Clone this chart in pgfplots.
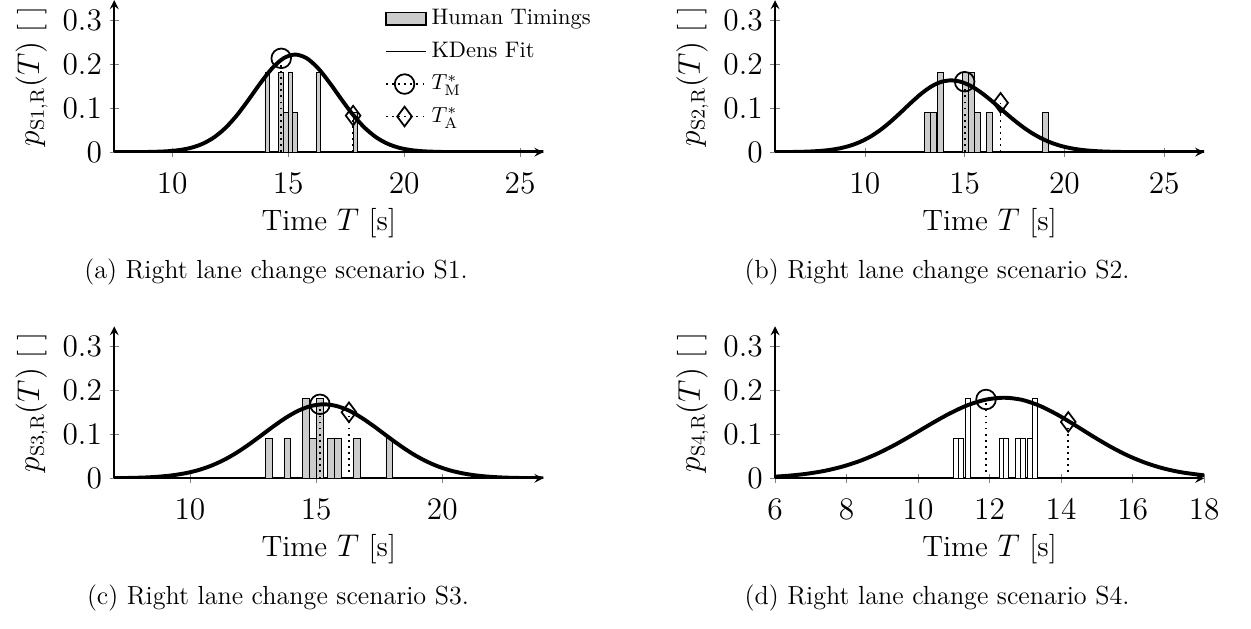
\documentclass[border=0pt]{standalone}
\usepackage{pgfplots}
\pgfplotsset{compat=1.18}
\definecolor{barfill}{gray}{0.8}
\newcommand{\axfont}{\fontsize{13.5}{16.2}\selectfont}
\newcommand{\legfont}{\fontsize{10.3}{12.4}\selectfont}
\newcommand{\capfont}{\fontsize{12}{14.4}\selectfont}
\pgfplotsset{
  kd/.style={
    scale only axis, width=196.8pt, height=69.7pt,
    anchor=south west,
    axis lines=left, tick align=center,
    axis line style={thick},
    ymin=0, ymax=0.345, ytick={0,0.1,0.2,0.3},
    tick label style={font=\axfont},
    xticklabel style={yshift=-4pt},
    label style={font=\axfont},
    xlabel={Time $T$ [s]},
  },
  kdfit/.style={black, line width=1.8pt, smooth},
  tm/.style={black, thick, dotted, mark=o, mark size=4.5pt, mark indices={2},
    mark options={solid, line width=0.8pt}},
  ta/.style={black, thick, dotted, mark=diamond, mark size=4.5pt, mark indices={2},
    mark options={solid, line width=0.8pt}},
  hist/.style={ybar, bar shift=0pt, draw=black, fill=barfill},
}
\begin{document}
\begin{tikzpicture}
\useasboundingbox (0,0) rectangle (573.8pt,288.1pt);

% (a) S1
\begin{axis}[kd, at={(52.4pt,218.3pt)},
    xmin=7.5, xmax=26, xtick={10,15,20,25},
    ylabel={$p_{\mathrm{S1,R}}(T)$ [\,\,]},
    legend style={draw=none, fill=none, font=\legfont, row sep=2.5pt,
      at={(rel axis cs:0.615,1.0)}, anchor=north west, cells={anchor=west}}]
\addplot[hist, bar width=0.2,
  legend image code/.code={\draw[thick, fill=barfill] (0cm,-0.1cm) rectangle (0.65cm,0.1cm);}]
  coordinates {(14.1,0.1818) (14.7,0.1818) (14.9,0.0909) (15.1,0.1818) (15.3,0.0909) (16.3,0.1818) (17.9,0.0909)};
\addlegendentry{Human Timings}
\addplot[kdfit, legend image code/.code={\draw[thick] (0cm,0cm) -- (0.65cm,0cm);}] coordinates {
  (7.5,0) (8.3,0.0001) (8.8,0.0003) (9.3,0.0009) (9.8,0.0021) (10.3,0.0047) (10.8,0.0097)
  (11.3,0.0188) (11.8,0.0335) (12.3,0.0553) (12.8,0.0845) (13.3,0.1196) (13.8,0.1566)
  (14.3,0.1899) (14.8,0.2132) (15.3,0.2216) (15.8,0.2132) (16.3,0.1899) (16.8,0.1566)
  (17.3,0.1196) (17.8,0.0845) (18.3,0.0553) (18.8,0.0335) (19.3,0.0188) (19.8,0.0097)
  (20.3,0.0047) (20.8,0.0021) (21.3,0.0009) (21.8,0.0003) (22.3,0.0001) (26,0)};
\addlegendentry{KDens Fit}
\addplot[tm] coordinates {(14.7,0) (14.7,0.213)};
\addlegendentry{$T_{\mathrm{M}}^{*}$}
\addplot[ta] coordinates {(17.8,0) (17.8,0.083)};
\addlegendentry{$T_{\mathrm{A}}^{*}$}
\end{axis}

% (b) S2
\begin{axis}[kd, at={(355.5pt,218.3pt)},
    xmin=5.5, xmax=27, xtick={10,15,20,25},
    ylabel={$p_{\mathrm{S2,R}}(T)$ [\,\,]}]
\addplot[hist, bar width=0.3]
  coordinates {(13.14,0.0909) (13.44,0.0909) (13.79,0.1818) (15.02,0.1818) (15.33,0.1818) (15.66,0.0909) (16.26,0.0909) (19.06,0.0909)};
\addplot[kdfit] coordinates {
  (5.5,0.0001) (5.8,0.0002) (6.3,0.0004) (6.8,0.0008) (7.3,0.0016) (7.8,0.0030) (8.3,0.0054)
  (8.8,0.0093) (9.3,0.0153) (9.8,0.0240) (10.3,0.0359) (10.8,0.0512) (11.3,0.0696)
  (11.8,0.0903) (12.3,0.1117) (12.8,0.1318) (13.3,0.1483) (13.8,0.1592) (14.3,0.1630)
  (14.8,0.1598) (15.3,0.1505) (15.8,0.1362) (16.3,0.1184) (16.8,0.0989) (17.3,0.0793)
  (17.8,0.0612) (18.3,0.0453) (18.8,0.0323) (19.3,0.0221) (19.8,0.0145) (20.3,0.0091)
  (20.8,0.0055) (21.3,0.0032) (21.8,0.0018) (22.3,0.0010) (22.8,0.0005) (23.3,0.0002)
  (23.8,0.0001) (27,0)};
\addplot[tm] coordinates {(15.0,0) (15.0,0.16)};
\addplot[ta] coordinates {(16.8,0) (16.8,0.112)};
\end{axis}

% (c) S3
\begin{axis}[kd, at={(52.4pt,68.7pt)},
    xmin=7, xmax=24, xtick={10,15,20},
    ylabel={$p_{\mathrm{S3,R}}(T)$ [\,\,]}]
\addplot[hist, bar width=0.27]
  coordinates {(13.12,0.0909) (13.86,0.0909) (14.6,0.1818) (14.87,0.0909) (15.14,0.1818) (15.6,0.0909) (15.87,0.0909) (16.6,0.0909) (17.9,0.0909)};
\addplot[kdfit] coordinates {
  (7.0,0.0005) (7.3,0.0006) (7.8,0.0011) (8.3,0.0021) (8.8,0.0039) (9.3,0.0068) (9.8,0.0114)
  (10.3,0.0181) (10.8,0.0277) (11.3,0.0404) (11.8,0.0564) (12.3,0.0754) (12.8,0.0963)
  (13.3,0.1177) (13.8,0.1375) (14.3,0.1537) (14.8,0.1643) (15.3,0.1680) (15.8,0.1643)
  (16.3,0.1537) (16.8,0.1375) (17.3,0.1177) (17.8,0.0963) (18.3,0.0754) (18.8,0.0564)
  (19.3,0.0404) (19.8,0.0277) (20.3,0.0181) (20.8,0.0114) (21.3,0.0068) (21.8,0.0039)
  (22.3,0.0021) (22.8,0.0011) (23.3,0.0006) (24,0.0002)};
\addplot[tm] coordinates {(15.15,0) (15.15,0.168)};
\addplot[ta] coordinates {(16.3,0) (16.3,0.15)};
\end{axis}

% (d) S4
\begin{axis}[kd, at={(355.5pt,68.7pt)},
    xmin=6, xmax=18, xtick={6,8,10,12,14,16,18},
    ylabel={$p_{\mathrm{S4,R}}(T)$ [\,\,]}]
\addplot[hist, bar width=0.13, fill=white]
  coordinates {(11.06,0.0909) (11.19,0.0909) (11.40,0.1818) (12.33,0.0909) (12.46,0.0909) (12.80,0.0909) (12.93,0.0909) (13.12,0.0909) (13.26,0.1818)};
\addplot[kdfit] coordinates {
  (6.0,0.0038) (6.4,0.0061) (6.9,0.0105) (7.4,0.0172) (7.9,0.0270) (8.4,0.0403) (8.9,0.0575)
  (9.4,0.0782) (9.9,0.1014) (10.4,0.1254) (10.9,0.1479) (11.4,0.1665) (11.9,0.1787)
  (12.4,0.1830) (12.9,0.1783) (13.4,0.1647) (13.9,0.1444) (14.4,0.1201) (14.9,0.0948)
  (15.4,0.0710) (15.9,0.0504) (16.4,0.0340) (16.9,0.0217) (17.4,0.0132) (18.0,0.0068)};
\addplot[tm] coordinates {(11.9,0) (11.9,0.179)};
\addplot[ta] coordinates {(14.2,0) (14.2,0.128)};
\end{axis}

\node[font=\capfont] at (126.6pt,163.3pt) {(a) Right lane change scenario S1.};
\node[font=\capfont] at (429.8pt,163.3pt) {(b) Right lane change scenario S2.};
\node[font=\capfont] at (127.5pt,13.8pt) {(c) Right lane change scenario S3.};
\node[font=\capfont] at (429.8pt,13.8pt) {(d) Right lane change scenario S4.};
\end{tikzpicture}
\end{document}
